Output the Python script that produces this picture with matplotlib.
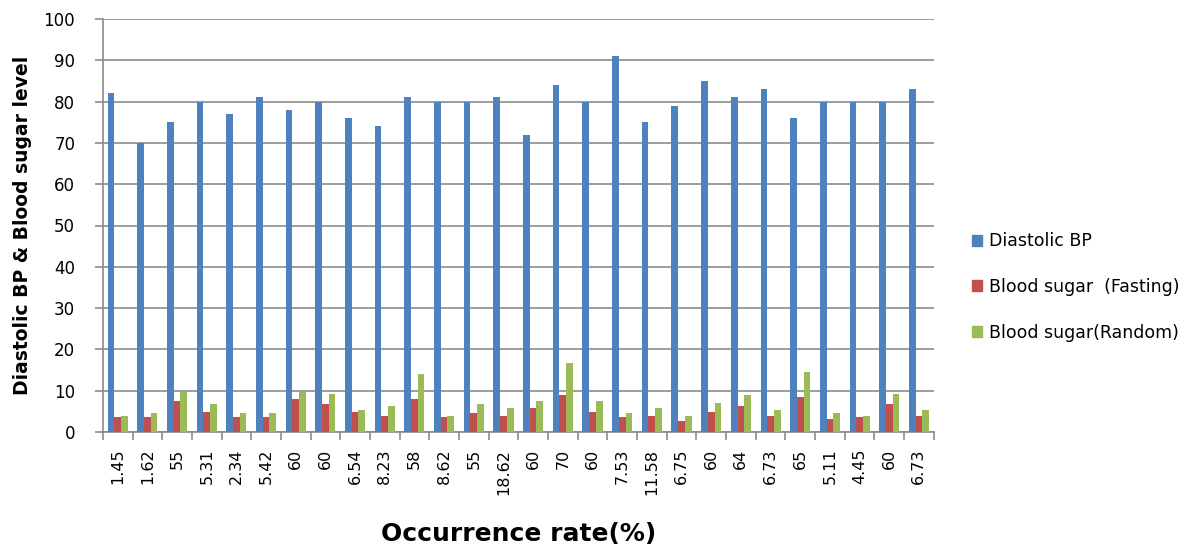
import numpy as np
import matplotlib
matplotlib.use("Agg")
import matplotlib.pyplot as plt
from matplotlib.patches import Patch

occurrence_labels = ["1.45", "1.62", "55", "5.31", "2.34", "5.42", "60", "60", "6.54",
                     "8.23", "58", "8.62", "55", "18.62", "60", "70", "60", "7.53",
                     "11.58", "6.75", "60", "64", "6.73", "65", "5.11", "4.45", "60", "6.73"]
diastolic_bp = [82, 70, 75, 80, 77, 81, 78, 80, 76, 74, 81, 80, 80, 81,
                72, 84, 80, 91, 75, 79, 85, 81, 83, 76, 80, 80, 80, 83]
sugar_fasting = [3.6, 3.6, 7.6, 4.9, 3.6, 3.6, 8.0, 6.7, 4.9, 4.0, 8.0, 3.6, 4.5, 4.0,
                 5.8, 8.9, 4.9, 3.6, 4.0, 2.7, 4.9, 6.2, 4.0, 8.5, 3.1, 3.6, 6.7, 4.0]
sugar_random = [4.0, 4.5, 9.8, 6.7, 4.5, 4.5, 9.8, 9.3, 5.3, 6.2, 14.1, 4.0, 6.7, 5.8,
                7.6, 16.7, 7.6, 4.5, 5.8, 4.0, 7.1, 8.9, 5.3, 14.5, 4.5, 4.0, 9.3, 5.3]

series_names = ["Diastolic BP", "Blood sugar  (Fasting)", "Blood sugar(Random)"]
colors = ["#4F81BD", "#C0504D", "#9BBB59"]

fig = plt.figure(figsize=(12.04, 5.5), dpi=100)
ax = fig.add_axes([0.0855, 0.2145, 0.69, 0.751])

n = len(occurrence_labels)
x = np.arange(n)
w = 0.225
for k, (vals, col) in enumerate(zip([diastolic_bp, sugar_fasting, sugar_random], colors)):
    ax.bar(x + (k - 1) * w, vals, width=w, color=col, zorder=3)

ax.set_xlim(-0.5, n - 0.5)
ax.set_ylim(0, 100)
ax.set_yticks(np.arange(0, 101, 10))
ax.yaxis.grid(True, color="#8c8c8c", linewidth=1.2, zorder=0)

ax.set_xticks(x)
ax.set_xticklabels(occurrence_labels, rotation=90, fontsize=11.5)
ax.tick_params(axis="x", length=0, pad=12)
ax.set_xticks(np.arange(n + 1) - 0.5, minor=True)
ax.tick_params(axis="x", which="minor", length=6, color="#8c8c8c", width=1.2)
ax.tick_params(axis="y", length=6, color="#8c8c8c", width=1.2, labelsize=12, pad=14)

for s in ["top", "right"]:
    ax.spines[s].set_visible(False)
for s in ["left", "bottom"]:
    ax.spines[s].set_color("#8c8c8c")
    ax.spines[s].set_linewidth(1.2)

ax.set_ylabel("Diastolic BP & Blood sugar level", fontsize=13.5, fontweight="bold", labelpad=8)
ax.set_xlabel("Occurrence rate(%)", fontsize=18, fontweight="bold", labelpad=20)

handles = [Patch(color=c, label=l) for c, l in zip(colors, series_names)]
fig.legend(handles=handles, loc="center left", bbox_to_anchor=(0.794, 0.478),
           frameon=False, fontsize=12.5, handlelength=0.6, handleheight=0.6,
           handletextpad=0.4, labelspacing=1.6)

fig.savefig("out.png", dpi=100, facecolor="white")
